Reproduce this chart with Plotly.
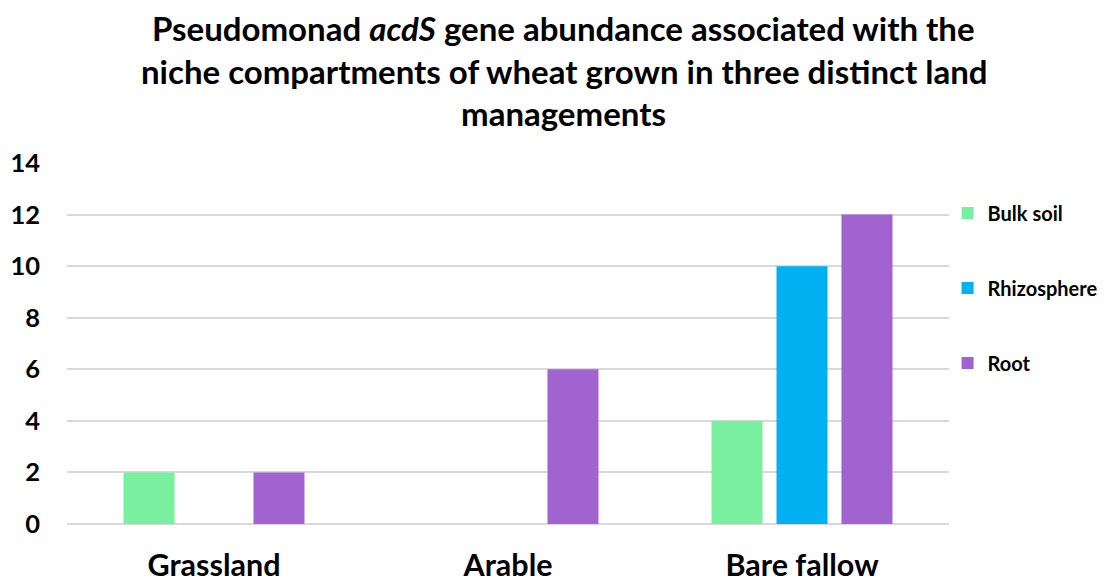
import plotly.graph_objects as go

# Land managements and niche compartments
categories = ["Grassland", "Arable", "Bare fallow"]
bulk_soil = [2, 0, 4]
rhizosphere = [0, 0, 10]
root = [2, 6, 12]
y_ticks = [0, 2, 4, 6, 8, 10, 12, 14]

series = [
    ("Bulk soil", bulk_soil, "#78F0A0"),
    ("Rhizosphere", rhizosphere, "#00B0F0"),
    ("Root", root, "#A063CF"),
]

title_lines = [
    "<b>Pseudomonad <i>acdS</i> gene abundance associated with the</b>",
    "<b>niche compartments of wheat grown in three distinct land</b>",
    "<b>managements</b>",
]
title_y = [1.374, 1.255, 1.138]

FONT = "Lato, 'Open Sans', sans-serif"

fig = go.Figure()
for i, (name, vals, color) in enumerate(series):
    fig.add_trace(go.Bar(
        x=categories, y=vals, name=name,
        marker=dict(color=color, line=dict(width=0)),
        legendgroup=f"g{i}",
    ))

for text, yy in zip(title_lines, title_y):
    fig.add_annotation(
        text=text, xref="paper", yref="paper", x=0.563, y=yy,
        xanchor="center", yanchor="middle", showarrow=False,
        font=dict(size=33, family=FONT, color="#000000"),
    )

fig.update_layout(
    width=1107, height=581,
    barmode="group", bargap=0.337, bargroupgap=0.215,
    paper_bgcolor="white", plot_bgcolor="white",
    margin=dict(l=67, r=158, t=163, b=57, autoexpand=False),
    font=dict(family=FONT, color="#000000"),
    legend=dict(
        xref="container", yref="container",
        x=0.856, xanchor="left", y=0.667, yanchor="top",
        font=dict(size=20, family=FONT, color="#000000", weight="bold"),
        traceorder="grouped", tracegroupgap=46,
        itemwidth=30, bgcolor="rgba(0,0,0,0)",
    ),
    showlegend=True,
)

fig.update_yaxes(
    range=[0, 14], tickvals=y_ticks, automargin=False,
    showgrid=True, gridcolor="#D9D9D9", gridwidth=1.5,
    zeroline=True, zerolinecolor="#D9D9D9", zerolinewidth=1.5,
    showline=False, ticks="", ticklabelstandoff=26,
    tickfont=dict(size=25.5, family=FONT, color="#000000", weight="bold"),
)
fig.update_xaxes(
    showgrid=False, showline=False, ticks="", automargin=False,
    tickfont=dict(size=30.5, family=FONT, color="#000000", weight="bold"),
    ticklabelstandoff=20,
)

fig.write_html("out.html")
